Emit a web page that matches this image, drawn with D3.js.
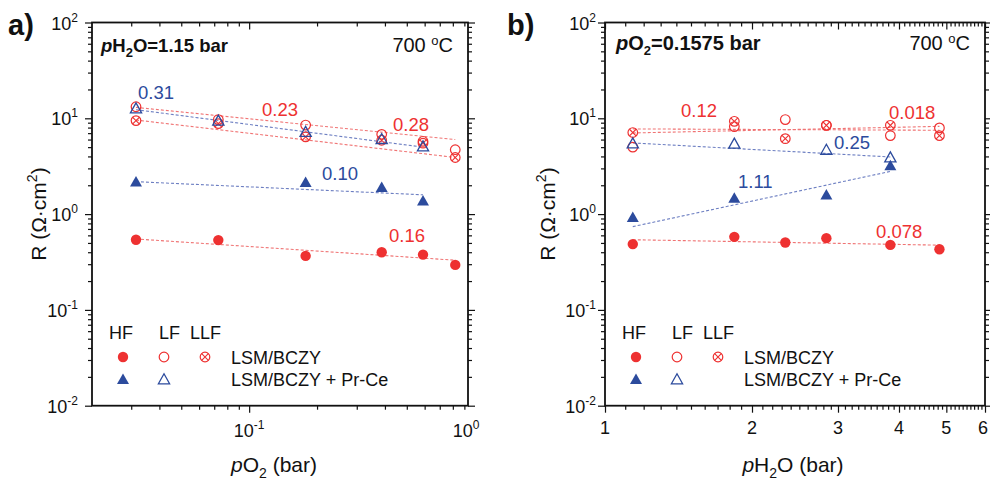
<!DOCTYPE html>
<html>
<head>
<meta charset="utf-8">
<script src="https://cdn.jsdelivr.net/npm/d3@7/dist/d3.min.js"></script>
<style>
body { margin: 0; background: #fff; }
svg { display: block; }
text { font-family: "Liberation Sans", Arial, sans-serif; fill: #111; }
</style>
</head>
<body>
<script>
(function(d3) {
	var red = "#ee3131";
	var blue = "#2c4b9d";
	var redLine = "#f07474";
	var blueLine = "#6d7fc2";

	// panel a) R vs pO2 at pH2O = 1.15 bar
	var pO2 = [0.0315, 0.073, 0.178, 0.387, 0.59, 0.82];
	var aRedHF = [0.54, 0.535, 0.366, 0.40, 0.378, 0.295];
	var aRedLF = [13.2, 9.7, 8.5, 6.8, 5.75, 4.7];
	var aRedLLF = [9.46, 8.8, 6.4, 5.9, 5.5, 3.9];
	var pO2Blue = [0.0315, 0.073, 0.178, 0.387, 0.59];
	var aBlueLF = [12.5, 9.3, 7.1, 5.98, 5.0];
	var pO2BlueHF = [0.0315, 0.178, 0.387, 0.59];
	var aBlueHF = [2.14, 2.11, 1.87, 1.355];

	// fitted lines, [x0, y0, x1, y1]
	var aFitRedHF = [0.0315, 0.55, 0.82, 0.33];
	var aFitBlueHF = [0.0315, 2.18, 0.59, 1.59];
	var aFitBlueLF = [0.0315, 12.3, 0.59, 5.0];
	var aFitRedLF = [0.0315, 13.0, 0.82, 6.0];
	var aFitRedLLF = [0.0315, 9.6, 0.82, 3.9];

	// panel b) R vs pH2O at pO2 = 0.1575 bar
	var pH2O = [1.14, 1.84, 2.34, 2.84, 3.84, 4.84];
	var bRedHF = [0.486, 0.579, 0.505, 0.561, 0.477, 0.43];
	var bRedLF = [5.0, 8.2, 9.7, 8.45, 6.6, 7.94];
	var bRedLLF = [7.1, 9.3, 6.13, 8.45, 8.45, 6.59];
	var pH2OBlue = [1.14, 1.84, 2.84, 3.84];
	var bBlueHF = [0.908, 1.445, 1.565, 3.15];
	var bBlueLF = [5.39, 5.35, 4.62, 3.85];

	var bFitRedHF = [1.14, 0.54, 4.84, 0.474];
	var bFitBlueHF = [1.14, 0.74, 3.84, 2.79];
	var bFitBlueLF = [1.14, 5.53, 3.84, 3.95];
	var bFitRedLF = [1.14, 7.03, 4.84, 8.24];
	var bFitRedLLF = [1.14, 7.75, 4.84, 7.5];

	var yTicks = [0.01, 0.1, 1, 10, 100];
	var aXMinor = [0.03, 0.04, 0.05, 0.06, 0.07, 0.08, 0.09, 0.2, 0.3, 0.4, 0.5, 0.6, 0.7, 0.8, 0.9];
	var aXLabels = [0.1, 1];
	var bXMajor = [1, 2, 3, 4, 5, 6];

	var width = 990;
	var height = 482;

	var svg = d3.select("body").append("svg")
		.attr("width", width)
		.attr("height", height);

	var y = d3.scaleLog().domain([0.01, 100]).range([405.7, 22.5]);

	function yMinor() {
		var t = [];
		[0.01, 0.1, 1, 10].forEach(function(d) {
			for (var k = 2; k <= 9; k++) t.push(d * k);
		});
		return t;
	}

	function drawMark(g, cx, cy, type, color) {
		var m = g.append("g").attr("transform", "translate(" + cx + "," + cy + ")");
		if (type == "dot") {
			m.append("circle").attr("r", 5.2).style("fill", color);
		} else if (type == "circle") {
			m.append("circle").attr("r", 4.8).style("fill", "none")
				.attr("stroke", color).attr("stroke-width", 1.2);
		} else if (type == "cross") {
			m.append("circle").attr("r", 4.8).style("fill", "none")
				.attr("stroke", color).attr("stroke-width", 1.2);
			m.append("path").attr("d", "M-3.3,-3.3L3.3,3.3M3.3,-3.3L-3.3,3.3")
				.attr("stroke", color).attr("stroke-width", 1.1);
		} else if (type == "tri") {
			m.append("path").attr("d", "M0,-6.5L6,4L-6,4Z").style("fill", color);
		} else if (type == "triOpen") {
			m.append("path").attr("d", "M0,-6.2L5.6,3.8L-5.6,3.8Z").style("fill", "none")
				.attr("stroke", color).attr("stroke-width", 1.3);
		}
	}

	function drawPanel(opts) {
		var x = opts.x;
		var g = svg.append("g");
		var left = x.range()[0], right = x.range()[1];
		var top = y.range()[1], bottom = y.range()[0];

		// axes: left/right/bottom out, top in
		var major = 7, minor = 4;
		function ax(axis, tx, ty, vals, size) {
			g.append("g").attr("transform", "translate(" + tx + "," + ty + ")")
				.call(axis.tickValues(vals).tickSize(size).tickFormat(""))
				.call(function(s) {
					s.select(".domain").remove();
					s.selectAll("line").attr("stroke", "#111").attr("stroke-width", 1.2);
				});
		}
		ax(d3.axisLeft(y), left, 0, yTicks, major);
		ax(d3.axisLeft(y), left, 0, yMinor(), minor);
		ax(d3.axisRight(y), right, 0, yTicks, major);
		ax(d3.axisRight(y), right, 0, yMinor(), minor);
		ax(d3.axisBottom(x), 0, bottom, opts.xMajor, major);
		ax(d3.axisBottom(x), 0, bottom, opts.xMinor, minor);
		ax(d3.axisBottom(x), 0, top, opts.xMajor, major);
		ax(d3.axisBottom(x), 0, top, opts.xMinor, minor);

		g.append("rect")
			.attr("x", left).attr("y", top)
			.attr("width", right - left).attr("height", bottom - top)
			.style("fill", "none").attr("stroke", "#111").attr("stroke-width", 1.8);

		// y tick labels
		yTicks.forEach(function(d) {
			var t = g.append("text")
				.attr("x", left - opts.yLabGap)
				.attr("y", y(d) + 7)
				.attr("text-anchor", "end")
				.attr("font-size", "18px");
			t.append("tspan").text("10");
			t.append("tspan").attr("dy", -8).attr("font-size", "12px").text(Math.round(Math.log10(d)));
		});

		// x tick labels
		opts.xLabels.forEach(function(d) {
			var t = g.append("text")
				.attr("x", Math.min(x(d), right - 2))
				.attr("y", opts.xLabY)
				.attr("text-anchor", "middle")
				.attr("font-size", "18px");
			if (opts.xPow) {
				t.append("tspan").text("10");
				t.append("tspan").attr("dy", -8).attr("font-size", "12px").text(Math.round(Math.log10(d)));
			} else {
				t.text(d);
			}
		});

		// axis titles
		var yt = g.append("text")
			.attr("transform", "translate(" + (left - opts.yTitleGap) + "," + ((top + bottom) / 2) + ") rotate(-90)")
			.attr("text-anchor", "middle")
			.attr("font-size", "21px");
		yt.append("tspan").text("R (\u03A9\u00B7cm");
		yt.append("tspan").attr("dy", -9).attr("font-size", "14px").text("2");
		yt.append("tspan").attr("dy", 9).text(")");

		var xt = g.append("text")
			.attr("x", (left + right) / 2 + opts.xTitleDx)
			.attr("y", 472)
			.attr("text-anchor", "middle")
			.attr("font-size", "21px");
		xt.append("tspan").style("font-style", "italic").text("p");
		xt.append("tspan").text(opts.xTitle[0]);
		if (opts.xTitle[1]) {
			xt.append("tspan").attr("dy", 6).attr("font-size", "14px").text("2");
			xt.append("tspan").attr("dy", -6).text(opts.xTitle[1]);
		}
		xt.append("tspan").text(opts.xTitle[2]);

		// panel letter
		g.append("text")
			.attr("x", opts.letterX).attr("y", 35)
			.attr("font-size", "29px").attr("font-weight", "bold")
			.text(opts.letter);

		// condition text
		var ct = g.append("text")
			.attr("x", left + opts.condDx).attr("y", opts.condY)
			.attr("font-size", opts.condSize).attr("font-weight", "bold");
		ct.append("tspan").style("font-style", "italic").text("p");
		ct.append("tspan").text(opts.cond[0]);
		ct.append("tspan").attr("dy", 5).attr("font-size", "13px").text("2");
		ct.append("tspan").attr("dy", -5).text(opts.cond[1]);

		var tt = g.append("text")
			.attr("x", right - 15).attr("y", opts.condY)
			.attr("text-anchor", "end")
			.attr("font-size", "20px");
		tt.append("tspan").text("700 ");
		tt.append("tspan").attr("dy", -7).attr("font-size", "13px").text("o");
		tt.append("tspan").attr("dy", 7).text("C");

		// fitted dashed lines
		opts.fits.forEach(function(f) {
			g.append("line")
				.attr("x1", x(f.p[0])).attr("y1", y(f.p[1]))
				.attr("x2", x(f.p[2])).attr("y2", y(f.p[3]))
				.attr("stroke", f.color).attr("stroke-width", 1.1)
				.attr("stroke-dasharray", "3,2");
		});

		// markers
		opts.series.forEach(function(s) {
			s.xs.forEach(function(xv, i) {
				drawMark(g, x(xv), y(s.ys[i]), s.type, s.color);
			});
		});

		// slope labels
		opts.notes.forEach(function(n) {
			g.append("text")
				.attr("x", left + n.dx).attr("y", n.y)
				.attr("font-size", "18.5px")
				.style("fill", n.color)
				.text(n.text);
		});

		// legend
		var ly = [339, 357, 379];
		[["HF", 17], ["LF", 67], ["LLF", 98]].forEach(function(h) {
			g.append("text").attr("x", left + h[1]).attr("y", ly[0])
				.attr("font-size", "18px").text(h[0]);
		});
		drawMark(g, left + 31, ly[1], "dot", red);
		drawMark(g, left + 72, ly[1], "circle", red);
		drawMark(g, left + 113, ly[1], "cross", red);
		drawMark(g, left + 31, ly[2] + 1, "tri", blue);
		drawMark(g, left + 72, ly[2] + 1, "triOpen", blue);
		g.append("text").attr("x", left + 139).attr("y", ly[1] + 6.5)
			.attr("font-size", "18px").text("LSM/BCZY");
		g.append("text").attr("x", left + 139).attr("y", ly[2] + 7)
			.attr("font-size", "18px").text("LSM/BCZY + Pr-Ce");
	}

	drawPanel({
		x: d3.scaleLog().domain([0.0201, 0.934]).range([92, 468]),
		xMajor: [0.1],
		xMinor: aXMinor,
		xLabels: aXLabels,
		xPow: true,
		xLabY: 437,
		xTitle: ["O", " ", "(bar)"],
		xTitleDx: -6,
		yLabGap: 14,
		yTitleGap: 46,
		letter: "a)",
		letterX: 8,
		cond: ["H", "O=1.15 bar"],
		condDx: 9,
		condY: 52,
		condSize: "18.5px",
		fits: [
			{p: aFitRedHF, color: redLine},
			{p: aFitBlueHF, color: blueLine},
			{p: aFitRedLF, color: redLine},
			{p: aFitRedLLF, color: redLine},
			{p: aFitBlueLF, color: blueLine}
		],
		series: [
			{xs: pO2, ys: aRedHF, type: "dot", color: red},
			{xs: pO2, ys: aRedLF, type: "circle", color: red},
			{xs: pO2, ys: aRedLLF, type: "cross", color: red},
			{xs: pO2BlueHF, ys: aBlueHF, type: "tri", color: blue},
			{xs: pO2Blue, ys: aBlueLF, type: "triOpen", color: blue}
		],
		notes: [
			{text: "0.31", dx: 46, y: 99, color: blue},
			{text: "0.23", dx: 170, y: 115.5, color: red},
			{text: "0.28", dx: 301, y: 130.5, color: red},
			{text: "0.10", dx: 230, y: 180, color: blue},
			{text: "0.16", dx: 297, y: 242, color: red}
		]
	});

	drawPanel({
		x: d3.scaleLog().domain([1, 6]).range([605, 985]),
		xMajor: bXMajor,
		xMinor: d3.range(11, 60).filter(function(d) { return d % 10 != 0; }).map(function(d) { return d / 10; }),
		xLabels: bXMajor,
		xPow: false,
		xLabY: 434,
		xTitle: ["H", "O ", "(bar)"],
		xTitleDx: -2,
		yLabGap: 9,
		yTitleGap: 50,
		letter: "b)",
		letterX: 507,
		cond: ["O", "=0.1575 bar"],
		condDx: 11,
		condY: 50,
		condSize: "20px",
		fits: [
			{p: bFitRedHF, color: redLine},
			{p: bFitBlueHF, color: blueLine},
			{p: bFitRedLF, color: redLine},
			{p: bFitRedLLF, color: redLine},
			{p: bFitBlueLF, color: blueLine}
		],
		series: [
			{xs: pH2O, ys: bRedHF, type: "dot", color: red},
			{xs: pH2O, ys: bRedLF, type: "circle", color: red},
			{xs: pH2O, ys: bRedLLF, type: "cross", color: red},
			{xs: pH2OBlue, ys: bBlueHF, type: "tri", color: blue},
			{xs: pH2OBlue, ys: bBlueLF, type: "triOpen", color: blue}
		],
		notes: [
			{text: "0.12", dx: 76, y: 117, color: red},
			{text: "0.018", dx: 284, y: 119, color: red},
			{text: "0.25", dx: 229, y: 149, color: blue},
			{text: "1.11", dx: 133, y: 188, color: blue},
			{text: "0.078", dx: 271, y: 238, color: red}
		]
	});

})(d3);
</script>
</body>
</html>
